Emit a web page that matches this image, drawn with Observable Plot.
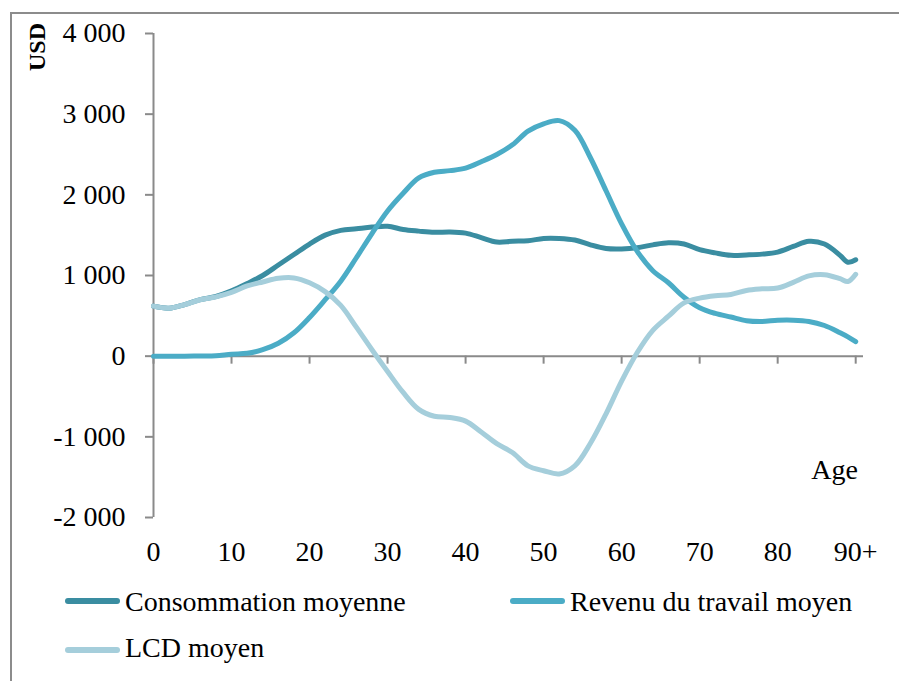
<!DOCTYPE html>
<html>
<head>
<meta charset="utf-8">
<script src="https://cdn.jsdelivr.net/npm/d3@7"></script>
<script src="https://cdn.jsdelivr.net/npm/@observablehq/plot@0.6"></script>
<style>
  body { margin: 0; background: #fff; overflow: hidden; font-family: "Liberation Serif", serif; }
  #wrap { position: relative; width: 899px; height: 681px; overflow: hidden; }
  #frame { position: absolute; left: 10px; top: 12px; width: 1000px; height: 1000px; border: 2px solid #8c8c8c; z-index: 5; pointer-events: none; }
  #chart { position: absolute; left: 0; top: 0; }
  .lbl { position: absolute; font-family: "Liberation Serif", serif; font-size: 28px; line-height: 1; color: #000; white-space: nowrap; }
  #usd { left: 7px; top: 35px; width: 60px; text-align: center; font-size: 24px; font-weight: bold; transform: rotate(-90deg); }
  #age { right: 41px; top: 456px; }
  .sw { position: absolute; width: 55px; height: 6px; border-radius: 3px; }
</style>
</head>
<body>
<div id="wrap">
  <div id="frame"></div>
  <div id="chart"></div>
  <div id="usd" class="lbl">USD</div>
  <div id="age" class="lbl">Age</div>
  <div id="legend"></div>
</div>
<script>
// ---- data ----
const ages = [0,2,4,6,8,10,12,14,16,18,20,22,24,26,28,30,32,34,36,38,40,42,44,46,48,50,52,54,56,58,60,62,64,66,68,70,72,74,76,78,80,82,84,86,88,89,90];
const consommation = [620,595,640,700,740,810,900,1000,1130,1260,1390,1500,1560,1580,1600,1610,1570,1550,1535,1540,1525,1470,1415,1425,1430,1460,1460,1440,1380,1335,1330,1345,1380,1405,1390,1320,1280,1250,1255,1265,1290,1360,1425,1390,1250,1165,1195];
const revenu = [0,0,0,2,5,25,35,80,160,290,480,700,930,1220,1520,1800,2020,2210,2280,2300,2330,2410,2500,2620,2790,2880,2920,2800,2460,2050,1640,1300,1060,910,730,600,530,485,440,430,445,446,430,380,290,240,180];
const lcd = [620,595,640,700,735,790,870,920,965,970,910,800,630,360,80,-190,-450,-660,-745,-760,-805,-940,-1085,-1195,-1360,-1420,-1460,-1360,-1080,-715,-310,45,320,495,660,720,750,765,815,835,845,915,995,1010,960,925,1015];
const seriesNames = ["Consommation moyenne", "Revenu du travail moyen", "LCD moyen"];
const seriesColors = ["#3a8da1", "#4bacc6", "#a5cedb"];
const yTicks = [-2000, -1000, 0, 1000, 2000, 3000, 4000];
const xTicks = [0, 10, 20, 30, 40, 50, 60, 70, 80, 90];
const xTickLabels = ["0", "10", "20", "30", "40", "50", "60", "70", "80", "90+"];

const rows = [];
[consommation, revenu, lcd].forEach((vals, s) =>
  vals.forEach((v, i) => rows.push({age: ages[i], value: v, series: seriesNames[s]})));

const fmt = d3.formatLocale({decimal: ",", thousands: " ", grouping: [3], currency: ["", ""], minus: "-"}).format(",");
const axisColor = "#8a8a8a";

const chart = Plot.plot({
  width: 899,
  height: 570,
  marginLeft: 153,
  marginRight: 36,
  marginTop: 33,
  marginBottom: 53,
  style: {fontFamily: "Liberation Serif, serif", fontSize: "28px", background: "transparent", color: "#000"},
  x: {domain: [0, 91]},
  y: {domain: [-2000, 4000]},
  color: {domain: seriesNames, range: seriesColors},
  marks: [
    Plot.axisY(yTicks, {tickSize: 8, tickPadding: 20, tickFormat: fmt, stroke: axisColor, strokeWidth: 2, fill: "#000", label: null}),
    Plot.axisX(xTicks, {tickSize: 0, tickPadding: 24, tickFormat: d => xTickLabels[xTicks.indexOf(d)], fill: "#000", label: null}),
    Plot.ruleX([0], {stroke: axisColor, strokeWidth: 2}),
    Plot.ruleY([0], {stroke: axisColor, strokeWidth: 2}),
    Plot.ruleX(xTicks, {x: d => d, y1: 0, y2: 0, insetBottom: -8, stroke: axisColor, strokeWidth: 2}),
    Plot.line(rows, {x: "age", y: "value", z: "series", stroke: "series", strokeWidth: 5, curve: "catmull-rom", strokeLinecap: "round", strokeLinejoin: "round"})
  ]
});
document.getElementById("chart").appendChild(chart);

// ---- legend (HTML, below the plot) ----
const legendPos = [
  {sx: 65, sy: 598, tx: 125, ty: 588},
  {sx: 510, sy: 598, tx: 570, ty: 588},
  {sx: 65, sy: 647, tx: 125, ty: 634}
];
const legend = document.getElementById("legend");
seriesNames.forEach((name, i) => {
  const p = legendPos[i];
  const sw = document.createElement("div");
  sw.className = "sw";
  sw.style.left = p.sx + "px";
  sw.style.top = p.sy + "px";
  sw.style.background = seriesColors[i];
  legend.appendChild(sw);
  const t = document.createElement("div");
  t.className = "lbl";
  t.style.left = p.tx + "px";
  t.style.top = p.ty + "px";
  t.textContent = name;
  legend.appendChild(t);
});
</script>
</body>
</html>
